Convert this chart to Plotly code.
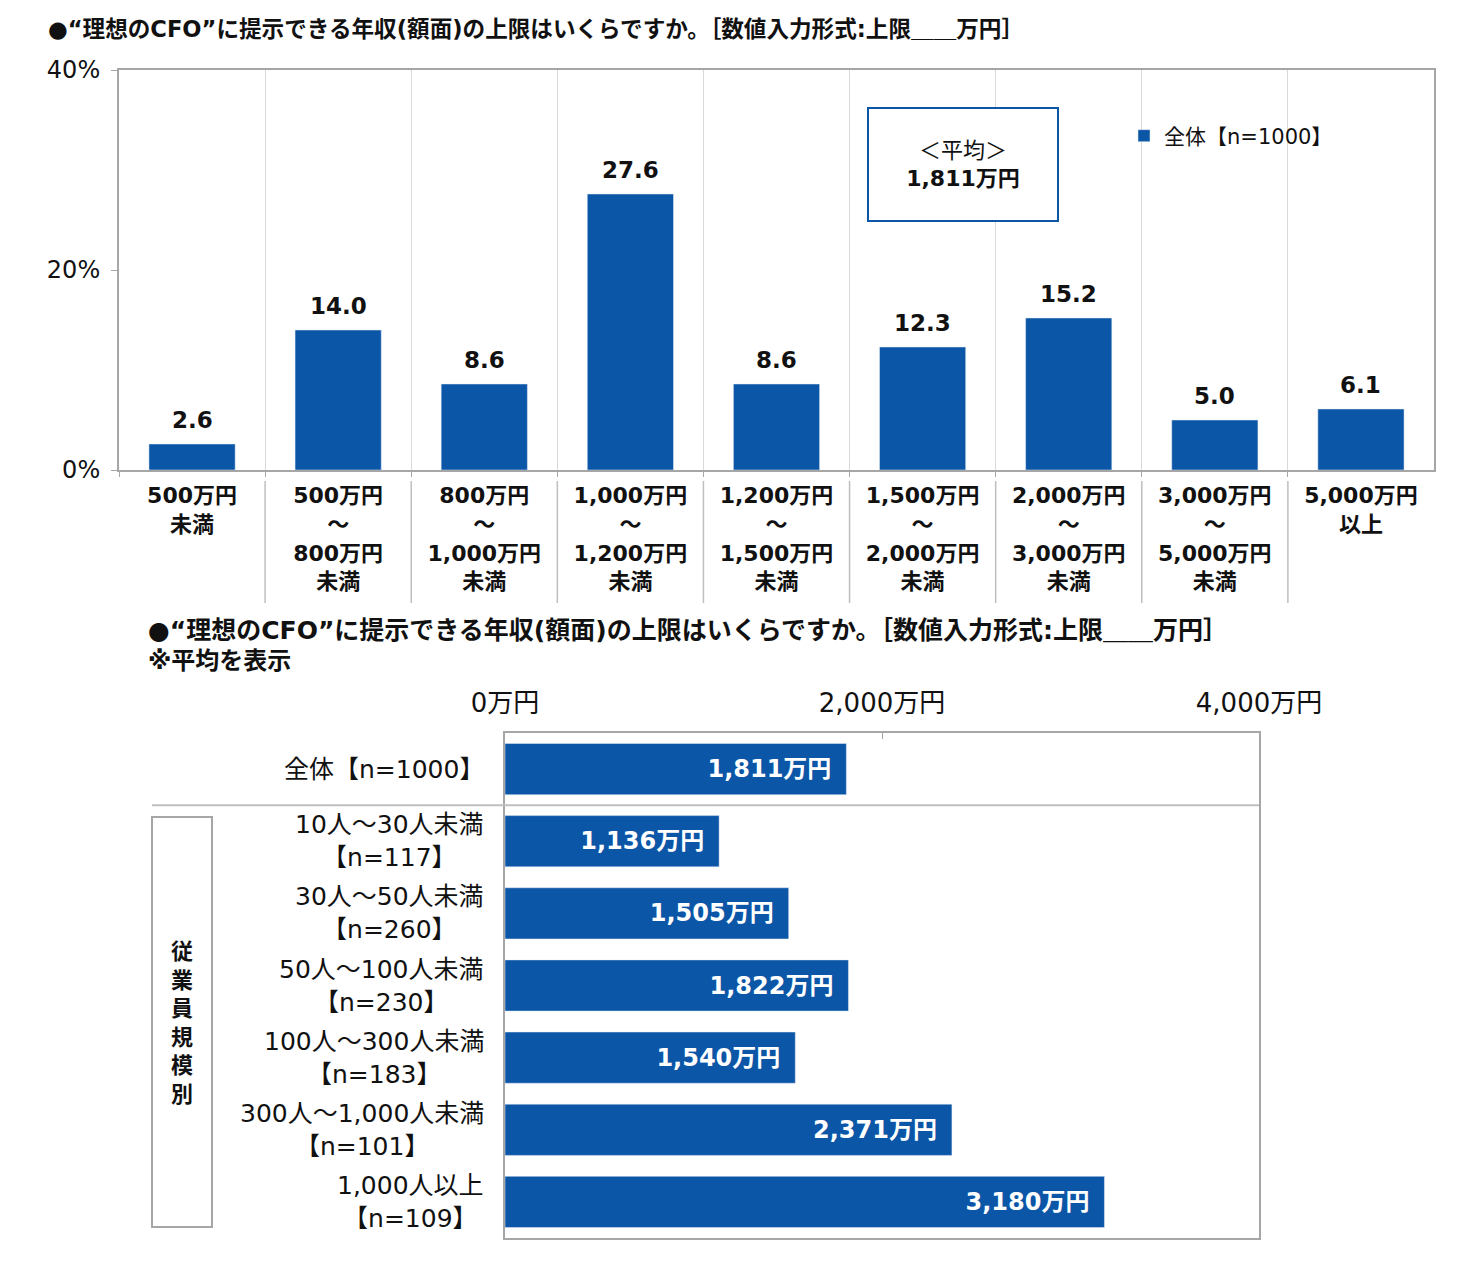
import plotly.graph_objects as go

# browser body margin is 8px, so the figure is drawn 8px in from the page corner
PAGE_W, PAGE_H = 1471, 1269
OFF = 8
W, H = PAGE_W - 2 * OFF, PAGE_H - 2 * OFF

# ---------------- data ----------------
top_title = "●“理想のCFO”に提示できる年収(額面)の上限はいくらですか。［数値入力形式:上限＿＿万円］"
bottom_title = "●“理想のCFO”に提示できる年収(額面)の上限はいくらですか。［数値入力形式:上限＿＿万円］"
bottom_note = "※平均を表示"

income_ranges = ["500万円未満", "500万円～800万円未満", "800万円～1,000万円未満",
                 "1,000万円～1,200万円未満", "1,200万円～1,500万円未満",
                 "1,500万円～2,000万円未満", "2,000万円～3,000万円未満",
                 "3,000万円～5,000万円未満", "5,000万円以上"]
income_tick_labels = ["500万円<br>未満", "500万円<br>～<br>800万円<br>未満",
                      "800万円<br>～<br>1,000万円<br>未満", "1,000万円<br>～<br>1,200万円<br>未満",
                      "1,200万円<br>～<br>1,500万円<br>未満", "1,500万円<br>～<br>2,000万円<br>未満",
                      "2,000万円<br>～<br>3,000万円<br>未満", "3,000万円<br>～<br>5,000万円<br>未満",
                      "5,000万円<br>以上"]
income_share = [2.6, 14.0, 8.6, 27.6, 8.6, 12.3, 15.2, 5.0, 6.1]
top_series_name = "全体【n=1000】"
overall_average = 1811
pct_ticks = [0, 20, 40]
pct_tick_labels = ["0%", "20%", "40%"]

groups = ["全体【n=1000】", "10人～30人未満<br>【n=117】", "30人～50人未満<br>【n=260】",
          "50人～100人未満<br>【n=230】", "100人～300人未満<br>【n=183】",
          "300人～1,000人未満<br>【n=101】", "1,000人以上<br>【n=109】"]
group_average = [1811, 1136, 1505, 1822, 1540, 2371, 3180]
group_title = "従業員規模別"
yen_ticks = [0, 2000, 4000]
yen_tick_labels = ["0万円", "2,000万円", "4,000万円"]

# ---------------- style ----------------
FONT = "DejaVu Sans, Noto Sans CJK JP"
BLUE = "#0C56A7"
FRAME = "#A6A6A6"
GRID = "#D9D9D9"
TXT = "#111111"


def px_x(x):
    return (x - OFF) / W


def px_y(y):
    return 1 - (y - OFF) / H


fig = go.Figure()

fig.add_trace(go.Bar(
    x=income_ranges, y=income_share, name=top_series_name,
    marker=dict(color=BLUE), width=0.59, cliponaxis=False,
    xaxis="x", yaxis="y", showlegend=True, hoverinfo="x+y",
))

fig.add_trace(go.Bar(
    x=group_average, y=groups, orientation="h",
    marker=dict(color=BLUE), width=0.71,
    texttemplate="<b>%{x:,.0f}万円</b>\u2002", textposition="inside",
    insidetextanchor="end", constraintext="none",
    textfont=dict(family=FONT, size=24, color="white"),
    xaxis="x2", yaxis="y2", showlegend=False,
))

annotations = [
    dict(text="<b>" + top_title + "</b>", x=px_x(46), y=px_y(29), xref="paper", yref="paper",
         xanchor="left", yanchor="middle", showarrow=False, font=dict(family=FONT, size=22.6, color=TXT)),
    dict(text="<b>" + bottom_title + "</b>", x=px_x(146), y=px_y(630), xref="paper", yref="paper",
         xanchor="left", yanchor="middle", showarrow=False, font=dict(family=FONT, size=25, color=TXT)),
    dict(text="<b>" + bottom_note + "</b>", x=px_x(146), y=px_y(661), xref="paper", yref="paper",
         xanchor="left", yanchor="middle", showarrow=False, font=dict(family=FONT, size=24, color=TXT)),
    dict(text="＜平均＞<br>" + f"<b>{overall_average:,}万円</b>", x=px_x(963), y=px_y(164.5),
         xref="paper", yref="paper", xanchor="center", yanchor="middle", showarrow=False,
         width=186, height=109, bordercolor=BLUE, borderwidth=2, bgcolor="white",
         font=dict(family=FONT, size=22, color=TXT)),
    dict(text="<b>" + "<br>".join(group_title) + "</b>", x=px_x(182), y=px_y(1023),
         xref="paper", yref="paper", xanchor="center", yanchor="middle", showarrow=False,
         font=dict(family=FONT, size=22, color=TXT)),
]
# value labels above the vertical bars
for cat, v in zip(income_ranges, income_share):
    annotations.append(dict(text=f"<b>{v:.1f}</b>", x=cat, y=v, xref="x", yref="y",
                            xanchor="center", yanchor="bottom", yshift=9, showarrow=False,
                            font=dict(family=FONT, size=23, color=TXT)))
# group labels for the horizontal bars
for g in groups:
    annotations.append(dict(text=g, x=px_x(486), y=g, xref="paper", yref="y2",
                            xanchor="right", yanchor="middle", align="center", showarrow=False,
                            font=dict(family=FONT, size=25, color=TXT)))

shapes = []
for i in range(len(income_ranges) - 1):
    shapes.append(dict(type="line", xref="x", yref="paper", x0=i + 0.5, x1=i + 0.5,
                       y0=px_y(481), y1=px_y(603), line=dict(color="#BFBFBF", width=1.5)))
shapes.append(dict(type="line", xref="paper", yref="y2", x0=px_x(152), x1=px_x(1259),
                   y0=0.5, y1=0.5, line=dict(color="#BFBFBF", width=2)))
shapes.append(dict(type="rect", xref="paper", yref="paper", x0=px_x(152), x1=px_x(212),
                   y0=px_y(1227), y1=px_y(817), line=dict(color=FRAME, width=2)))

fig.update_layout(
    width=W, height=H, margin=dict(l=0, r=0, t=0, b=0),
    paper_bgcolor="white", plot_bgcolor="white",
    font=dict(family=FONT, color=TXT),
    showlegend=True,
    legend=dict(x=px_x(1124), y=px_y(136), xanchor="left", yanchor="middle",
                font=dict(family=FONT, size=21, color=TXT), bgcolor="rgba(0,0,0,0)",
                itemwidth=30),
    xaxis=dict(domain=[px_x(119), px_x(1434)], anchor="y", type="category",
               categoryorder="array", categoryarray=income_ranges,
               range=[-0.5, len(income_ranges) - 0.5], tickson="boundaries",
               tickvals=income_ranges, ticktext=["<b>" + t + "</b>" for t in income_tick_labels],
               tickfont=dict(family=FONT, size=22, color=TXT),
               showgrid=True, gridcolor=GRID, gridwidth=1,
               showline=True, mirror=True, linecolor=FRAME, linewidth=2,
               ticks="outside", ticklen=5, tickcolor=FRAME, ticklabelstandoff=5,
               automargin=False, fixedrange=True),
    yaxis=dict(domain=[px_y(470), px_y(70)], anchor="x", range=[0, 40],
               tickvals=pct_ticks, ticktext=pct_tick_labels,
               tickfont=dict(family=FONT, size=24, color=TXT),
               showgrid=False, zeroline=False, showline=True, mirror=True,
               linecolor=FRAME, linewidth=2, ticks="outside", ticklen=6, tickcolor=FRAME,
               ticklabelstandoff=6, automargin=False),
    xaxis2=dict(domain=[px_x(505), px_x(1259)], anchor="y2", side="top", range=[0, 4000],
                tickvals=yen_ticks, ticktext=yen_tick_labels,
                tickfont=dict(family=FONT, size=26, color=TXT),
                showgrid=False, zeroline=False, showline=True, mirror=True,
                linecolor=FRAME, linewidth=2, ticks="inside", ticklen=6, tickcolor=FRAME,
                ticklabelstandoff=9, automargin=False),
    yaxis2=dict(domain=[px_y(1238), px_y(733)], anchor="x2", type="category",
                categoryorder="array", categoryarray=groups, range=[len(groups) - 0.5, -0.5],
                showticklabels=False, showgrid=False, zeroline=False,
                showline=True, mirror=True, linecolor=FRAME, linewidth=2, ticks="",
                automargin=False),
    annotations=annotations, shapes=shapes, bargap=0.3,
)

fig.write_html("out.html")
